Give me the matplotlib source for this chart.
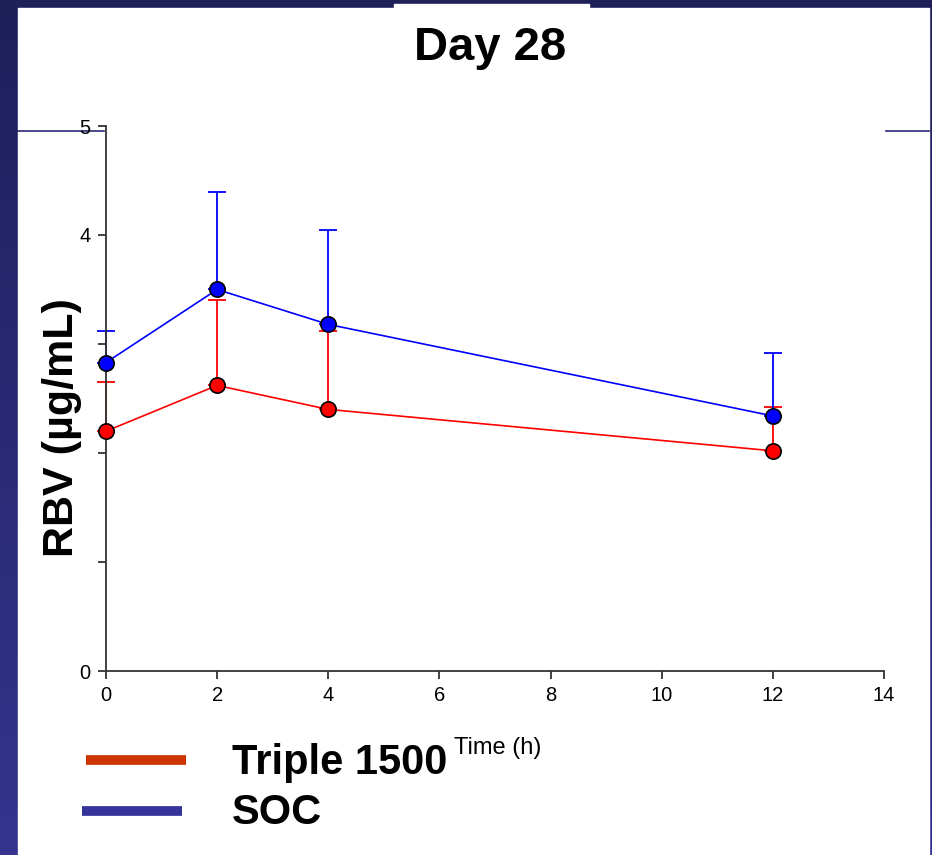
import matplotlib
matplotlib.use("Agg")
from matplotlib import pyplot as plt
from matplotlib.patches import Rectangle
from matplotlib.colors import LinearSegmentedColormap
import numpy as np

plt.rcParams['font.family'] = ['Liberation Sans', 'DejaVu Sans']

# data
time_h = [0, 2, 4, 12]
soc_mean = [2.83, 3.50, 3.18, 2.34]
soc_upper = [3.12, 4.39, 4.05, 2.92]
triple_mean = [2.20, 2.62, 2.40, 2.02]
triple_upper = [2.65, 3.40, 3.12, 2.42]

y_ticks = [0, 1, 2, 3, 4, 5]
y_ticklabels = ['0', '', '', '', '4', '5']
x_ticks = [0, 2, 4, 6, 8, 10, 12, 14]

W, H = 932, 855
fig = plt.figure(figsize=(W / 100, H / 100), dpi=100)

# slide background: dark navy gradient and a white panel
bg = fig.add_axes([0, 0, 1, 1], zorder=-10)
grad = np.linspace(0, 1, 256).reshape(-1, 1)
cmap = LinearSegmentedColormap.from_list('navy', ['#1f1f5a', '#34348f'])
bg.imshow(grad, aspect='auto', cmap=cmap, extent=[0, W, H, 0])
bg.add_patch(Rectangle((18, 8), 911, H - 8, color='white'))
bg.add_patch(Rectangle((394, 4), 195, 6, color='white'))
bg.plot([18, 104], [131, 131], color='#2a2a7a', lw=1.2)
bg.plot([886, 929], [131, 131], color='#2a2a7a', lw=1.2)
bg.set_xlim(0, W)
bg.set_ylim(H, 0)
bg.axis('off')

ax = fig.add_axes([106 / W, 1 - 671 / H, (884 - 106) / W, (671 - 126) / H])
ax.patch.set_alpha(0)

t = np.array(time_h)
for mean, upper, col in [(triple_mean, triple_upper, '#ff0000'),
                         (soc_mean, soc_upper, '#0000ff')]:
    mean = np.array(mean)
    err = np.array(upper) - mean
    ax.errorbar(t, mean, yerr=[np.zeros_like(err), err], fmt='none',
                ecolor=col, elinewidth=1.3, capsize=6.5, capthick=1.3,
                zorder=2, clip_on=False)
    ax.plot(t, mean, '-o', color=col, lw=1.2, ms=11, mfc=col, mec='black',
            mew=1.2, zorder=3, clip_on=False)

ax.set_xlim(0, 14)
ax.set_ylim(0, 5)
ax.set_xticks(x_ticks)
ax.set_yticks(y_ticks)
ax.set_yticklabels(y_ticklabels)
ax.spines['top'].set_visible(False)
ax.spines['right'].set_visible(False)
for s in ['left', 'bottom']:
    ax.spines[s].set_color('#333333')
    ax.spines[s].set_linewidth(1.3)
ax.tick_params(direction='out', length=6, width=1.3, color='#333333',
               labelsize=14.5, pad=5)

# axis titles placed where the slide has them
fig.text(498 / W, 1 - 748 / H, 'Time (h)', fontsize=17, ha='center',
         va='center')
fig.text(62 / W, 1 - 428 / H, 'RBV (µg/mL)', fontsize=31, fontweight='bold',
         rotation=90, ha='center', va='center')

fig.text(490 / W, 1 - 48 / H, 'Day 28', fontsize=34, fontweight='bold',
         ha='center', va='center')

# legend drawn like the slide
bg.plot([86, 186], [760, 760], color='#cc3300', lw=7, solid_capstyle='butt')
bg.plot([82, 182], [811, 811], color='#333399', lw=7, solid_capstyle='butt')
fig.text(232 / W, 1 - 763 / H, 'Triple 1500', fontsize=30, fontweight='bold',
         ha='left', va='center', zorder=20,
         bbox=dict(facecolor='white', edgecolor='none', pad=2))
fig.text(232 / W, 1 - 813 / H, 'SOC', fontsize=30, fontweight='bold',
         ha='left', va='center')

fig.savefig('out.png', dpi=100)
